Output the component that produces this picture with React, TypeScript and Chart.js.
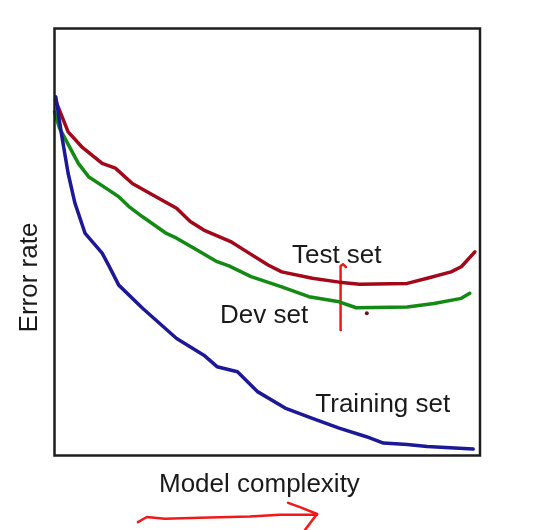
import React, { useEffect, useRef } from "react";
import { Chart, registerables } from "chart.js";

Chart.register(...registerables);

// Model complexity (0-100) and error rate (0-100) readings
const trainX = [0.3, 1.6, 3.2, 4.8, 7.2, 11.2, 12.7, 15.1, 20.7, 28.7, 35.1, 38.2, 43.0, 47.8, 54.2, 60.6, 66.9, 73.3, 77.3, 82.9, 87.6, 98.4];
const trainY = [84.0, 75.5, 66.1, 59.1, 52.0, 47.4, 44.6, 39.9, 34.5, 27.4, 23.5, 20.8, 19.6, 14.9, 11.1, 8.7, 6.4, 4.4, 2.9, 2.6, 2.1, 1.5];

const devX = [0, 1.2, 5.6, 8.0, 12.7, 15.1, 17.5, 20.7, 26.3, 28.7, 33.5, 38.2, 41.0, 46.2, 53.4, 59.8, 66.9, 70.9, 82.9, 89.2, 95.6, 97.6];
const devY = [80.5, 76.6, 68.4, 65.3, 62.2, 60.6, 58.3, 55.9, 52.0, 50.9, 48.1, 45.4, 44.4, 41.9, 39.5, 37.2, 36.0, 34.6, 34.8, 35.6, 36.8, 38.0];

const testX = [0.2, 3.2, 6.4, 11.2, 14.3, 18.3, 23.1, 28.7, 31.9, 35.1, 41.4, 44.6, 50.2, 53.4, 60.6, 66.9, 71.7, 82.9, 87.6, 93.2, 95.6, 98.8];
const testY = [83.3, 75.8, 72.3, 68.4, 67.3, 63.7, 61.0, 57.9, 54.8, 52.8, 50.1, 48.1, 44.6, 43.0, 41.5, 40.6, 40.1, 40.3, 41.5, 43.0, 44.2, 47.7];

// Hand-drawn red annotations (same data units)
const markX = [67.3, 67.3, 67.1, 67.3, 67.8, 68.5];
const markY = [29.4, 36.4, 42.9, 44.4, 44.8, 44.1];
const arrowX = [19.6, 21.7, 25.9, 34.1, 45.9, 53.0, 61.7];
const arrowY = [-15.6, -14.4, -14.8, -14.6, -14.3, -13.9, -13.9];
const headX = [54.9, 57.7, 61.7, 60.5, 58.9];
const headY = [-11.1, -12.1, -13.7, -15.3, -17.4];
const dotX = [73.4];
const dotY = [33.3];

const seriesLabels = [
  { text: "Test set", x: 55.8, y: 45.1 },
  { text: "Dev set", x: 38.9, y: 31.0 },
  { text: "Training set", x: 61.3, y: 10.3 },
];
const xTitle = "Model complexity";
const yTitle = "Error rate";

const pts = (xs: number[], ys: number[]) => xs.map((x, i) => ({ x, y: ys[i] }));

const FONT = "26px 'Liberation Sans', Arial, sans-serif";

const decorPlugin = {
  id: "decor",
  afterDatasetsDraw(chart: any) {
    const { ctx, chartArea: a, scales } = chart;
    ctx.save();
    ctx.strokeStyle = "#1e1e1e";
    ctx.lineWidth = 2.5;
    ctx.strokeRect(a.left, a.top, a.right - a.left, a.bottom - a.top);
    ctx.fillStyle = "#1a1a1a";
    ctx.font = FONT;
    ctx.textAlign = "left";
    ctx.textBaseline = "alphabetic";
    for (const l of seriesLabels) {
      ctx.fillText(l.text, scales.x.getPixelForValue(l.x), scales.y.getPixelForValue(l.y));
    }
    ctx.fillText(xTitle, a.left + 104.5, a.bottom + 36.5);
    ctx.translate(a.left - 17.5, (a.top + a.bottom) / 2 + 35.5);
    ctx.rotate(-Math.PI / 2);
    ctx.textAlign = "center";
    ctx.fillText(yTitle, 0, 0);
    ctx.restore();
  },
};

export default function App() {
  const ref = useRef<HTMLCanvasElement | null>(null);
  useEffect(() => {
    if (!ref.current) return;
    const line = (data: any, color: string, width: number, extra: any = {}) => ({
      data,
      borderColor: color,
      backgroundColor: color,
      borderWidth: width,
      pointRadius: 0,
      tension: 0,
      fill: false,
      clip: false,
      borderJoinStyle: "round",
      borderCapStyle: "round",
      ...extra,
    });
    const chart = new Chart(ref.current, {
      type: "line",
      data: {
        datasets: [
          line(pts(trainX, trainY), "#1c1896", 3.5),
          line(pts(devX, devY), "#138a13", 3.5),
          line(pts(testX, testY), "#a3081a", 3.5),
          line(pts(markX, markY), "#f01818", 2.5),
          line(pts(arrowX, arrowY), "#f01818", 2.5),
          line(pts(headX, headY), "#f01818", 2.5),
          line(pts(dotX, dotY), "#7a1010", 0, { pointRadius: 2, showLine: false }),
        ],
      },
      options: {
        animation: false,
        responsive: false,
        devicePixelRatio: 1,
        layout: { padding: { left: 54.5, top: 28.5, right: 53, bottom: 74.5 } },
        plugins: { legend: { display: false }, tooltip: { enabled: false } },
        scales: {
          x: { type: "linear", min: 0, max: 100, display: false },
          y: { type: "linear", min: 0, max: 100, display: false },
        },
      },
      plugins: [decorPlugin],
    });
    return () => chart.destroy();
  }, []);
  return (
    <div style={{ position: "fixed", left: 0, top: 0, width: 533, height: 530, background: "#fff" }}>
      <canvas ref={ref} width={533} height={530} />
    </div>
  );
}
